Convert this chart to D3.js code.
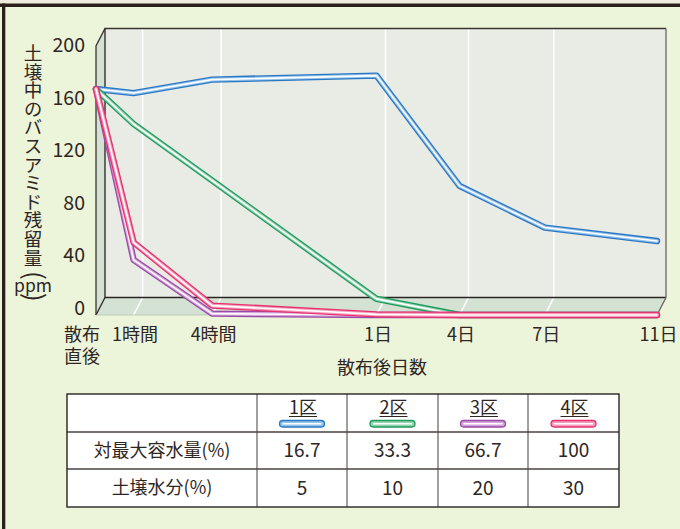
<!DOCTYPE html>
<html>
<head>
<meta charset="utf-8">
<script src="https://cdn.jsdelivr.net/npm/d3@7"></script>
<style>
  html, body { margin: 0; padding: 0; background: #ecf4da; }
  svg { display: block; font-family: "Noto Sans CJK JP", "Noto Sans", sans-serif; }
</style>
</head>
<body>
<div id="chart"></div>
<script>
// categories along the time axis
const categories = ['散布直後', '1時間', '4時間', '1日', '4日', '7日', '11日'];
const hours = [0, 1, 4, 24, 96, 168, 264];

// residual bassamid in soil (ppm)
const plot1 = [168, 165, 175, 178, 96, 65, 55];
const plot2 = [168, 142, 100, 12, 0, 0, 0];
const plot3 = [168, 41, 1, 0, 0, 0, 0];
const plot4 = [168, 54, 7, 0.5, 0, 0, 0];

const plotNames = ['1区', '2区', '3区', '4区'];
const yTicks = [0, 40, 80, 120, 160, 200];

// table rows
const rowLabels = ['対最大容水量(%)', '土壌水分(%)'];
const maxCapacity = ['16.7', '33.3', '66.7', '100'];
const soilMoisture = ['5', '10', '20', '30'];

const colors = ['#2a78c4', '#1f9b5e', '#9a4aa6', '#e6336e'];
const tints = ['#94c3ea', '#93d3ae', '#d3a3da', '#f59cbc'];

const W = 680, H = 529;
const svg = d3.select('#chart').append('svg')
  .attr('width', W).attr('height', H);

// card background + frame
svg.append('rect').attr('width', W).attr('height', H).attr('fill', '#ecf4da');
svg.append('rect').attr('x', 0).attr('y', 0).attr('width', W).attr('height', 3.5).attr('fill', '#efeadd');
svg.append('rect').attr('x', 0).attr('y', 3.5).attr('width', W).attr('height', 3.5).attr('fill', '#2a1f1b');
svg.append('rect').attr('x', 2).attr('y', 3.5).attr('width', 3.3).attr('height', H).attr('fill', '#2a1f1b');

// front plane of the 3d box
const fx0 = 96, fx1 = 657, fy0 = 315, fy1 = 46;
const dx = 9, dy = -17.5;
const xStops = [0, 0.067, 0.207, 0.5, 0.648, 0.8, 1];

const x = d3.scaleLinear()
  .domain(hours)
  .range(xStops.map(f => fx0 + f * (fx1 - fx0)));
const y = d3.scaleLinear().domain([0, 200]).range([fy0, fy1]);
const yLabel = d3.scaleLinear().domain([0, 200]).range([308, 45]);

const g = svg.append('g');

// back wall
g.append('rect')
  .attr('x', fx0 + dx).attr('y', fy1 + dy)
  .attr('width', fx1 - fx0).attr('height', fy0 - fy1)
  .attr('fill', '#e9ebe5');

// side wall
g.append('polygon')
  .attr('points', [[fx0, fy1], [fx0 + dx, fy1 + dy], [fx0 + dx, fy0 + dy], [fx0, fy0]].join(' '))
  .attr('fill', '#d4e2d3');

// floor
g.append('polygon')
  .attr('points', [[fx0, fy0], [fx0 + dx, fy0 + dy], [fx1 + dx, fy0 + dy], [fx1, fy0]].join(' '))
  .attr('fill', '#d3e2d3');

// white grid lines on wall + floor
hours.slice(1, -1).forEach(h => {
  g.append('polyline')
    .attr('points', [[x(h) + dx, fy1 + dy], [x(h) + dx, fy0 + dy], [x(h), fy0]].join(' '))
    .attr('fill', 'none')
    .attr('stroke', '#ffffff')
    .attr('stroke-width', 1.6);
});

// box edges
const edge = (pts, col, w) => g.append('polyline')
  .attr('points', pts.join(' '))
  .attr('fill', 'none').attr('stroke', col).attr('stroke-width', w);

edge([[fx0, fy0], [fx0, fy1], [fx0 + dx, fy1 + dy], [fx1 + dx, fy1 + dy]], '#3a3430', 1.3);
edge([[fx0 + dx, fy1 + dy], [fx0 + dx, fy0 + dy], [fx1 + dx, fy0 + dy]], '#2a2420', 1.3);
edge([[fx0, fy0], [fx0 + dx, fy0 + dy]], '#2a2420', 1.3);
edge([[fx1 + dx, fy1 + dy], [fx1 + dx, fy0 + dy], [fx1, fy0]], '#6b6764', 1.3);
edge([[fx0, fy0], [fx1, fy0]], '#b8c4b8', 0.8);

// y tick labels
svg.append('g').selectAll('text')
  .data(yTicks)
  .join('text')
  .attr('x', 85)
  .attr('y', d => yLabel(d))
  .attr('dy', '0.36em')
  .attr('text-anchor', 'end')
  .attr('font-size', 19.5)
  .attr('fill', '#2e2622')
  .text(d => d);

// y axis title (vertical)
const yt = svg.append('g').attr('fill', '#2e2622');
yt.append('text')
  .attr('x', 33).attr('y', 43.7)
  .attr('font-size', 18.6)
  .style('writing-mode', 'vertical-rl')
  .text('土壌中のバスアミド残留量');
yt.append('text').attr('x', 33).attr('y', 275.5).attr('dy', '0.32em')
  .attr('font-size', 26).attr('text-anchor', 'middle')
  .attr('transform', 'rotate(90 33 275.5)').text('(');
yt.append('text').attr('x', 33).attr('y', 286).attr('dy', '0.36em')
  .attr('font-size', 17.5).attr('text-anchor', 'middle').text('ppm');
yt.append('text').attr('x', 33).attr('y', 297.5).attr('dy', '0.32em')
  .attr('font-size', 26).attr('text-anchor', 'middle')
  .attr('transform', 'rotate(90 33 297.5)').text(')');

// x tick labels
const xt = svg.append('g').attr('fill', '#2e2622').attr('font-size', 18).attr('text-anchor', 'middle');
categories.forEach((c, i) => {
  if (i === 0) {
    const t0 = xt.append('text').attr('y', 335).attr('dy', '0.36em');
    t0.append('tspan').attr('x', x(hours[0]) - 14).text(c.slice(0, 2));
    t0.append('tspan').attr('x', x(hours[0]) - 14).attr('dy', 22).text(c.slice(2));
  } else {
    xt.append('text').attr('x', x(hours[i]) + 1.5).attr('y', 335).attr('dy', '0.36em').text(c);
  }
});
xt.append('text').attr('x', 382).attr('y', 368).attr('dy', '0.36em').text('散布後日数');

// lines
const series = [plot1, plot2, plot3, plot4];
const line = d3.line()
  .x((d, i) => x(hours[i]))
  .y(d => y(d));

series.forEach((s, k) => {
  const lg = svg.append('g')
    .attr('fill', 'none')
    .attr('stroke-linejoin', 'round')
    .attr('stroke-linecap', 'round');
  lg.append('path').datum(s).attr('d', line).attr('stroke', colors[k]).attr('stroke-width', 6.4);
  lg.append('path').datum(s).attr('d', line).attr('stroke', tints[k]).attr('stroke-width', 3.8);
  lg.append('path').datum(s).attr('d', line).attr('stroke', '#ffffff').attr('stroke-width', 1.6);
});

// table
const cols = [67, 257, 347, 438, 528, 619];
const rows = [394, 432, 469, 507];
const tb = svg.append('g');
tb.append('rect')
  .attr('x', cols[0]).attr('y', rows[0])
  .attr('width', cols[5] - cols[0]).attr('height', rows[3] - rows[0])
  .attr('fill', '#ffffff');
cols.slice(1, -1).forEach(cx => {
  tb.append('line').attr('x1', cx).attr('x2', cx).attr('y1', rows[0]).attr('y2', rows[3])
    .attr('stroke', '#6f6a67').attr('stroke-width', 1.3);
});
rows.slice(1, -1).forEach(ry => {
  tb.append('line').attr('x1', cols[0]).attr('x2', cols[5]).attr('y1', ry).attr('y2', ry)
    .attr('stroke', '#4a4340').attr('stroke-width', 1.3);
});
tb.append('rect')
  .attr('x', cols[0]).attr('y', rows[0])
  .attr('width', cols[5] - cols[0]).attr('height', rows[3] - rows[0])
  .attr('fill', 'none').attr('stroke', '#2a2420').attr('stroke-width', 1.4);

const tt = tb.append('g').attr('fill', '#2e2622').attr('font-size', 18).attr('text-anchor', 'middle');
const colMid = i => (cols[i] + cols[i + 1]) / 2;

// header: plot names with line samples
plotNames.forEach((n, k) => {
  const cx = colMid(k + 1);
  const t = tt.append('text').attr('x', cx + 1).attr('y', 408).attr('dy', '0.36em').text(n);
  const bb = t.node().getBBox();
  tb.append('line')
    .attr('x1', bb.x).attr('x2', bb.x + bb.width)
    .attr('y1', 416.5).attr('y2', 416.5)
    .attr('stroke', '#2e2622').attr('stroke-width', 1);
  tb.append('rect')
    .attr('x', cx - 22.5).attr('y', 420.5).attr('width', 45).attr('height', 6.5).attr('rx', 3.2)
    .attr('fill', tints[k]).attr('stroke', colors[k]).attr('stroke-width', 1.3);
  tb.append('line')
    .attr('x1', cx - 19).attr('x2', cx + 19).attr('y1', 423.7).attr('y2', 423.7)
    .attr('stroke', '#ffffff').attr('stroke-width', 1.4).attr('stroke-linecap', 'round');
});

[maxCapacity, soilMoisture].forEach((vals, r) => {
  const cy = (rows[r + 1] + rows[r + 2]) / 2;
  tt.append('text').attr('x', colMid(0)).attr('y', cy).attr('dy', '0.36em').text(rowLabels[r]);
  vals.forEach((v, k) => {
    tt.append('text').attr('x', colMid(k + 1)).attr('y', cy).attr('dy', '0.36em')
      .attr('font-size', 19).text(v);
  });
});
</script>
</body>
</html>
